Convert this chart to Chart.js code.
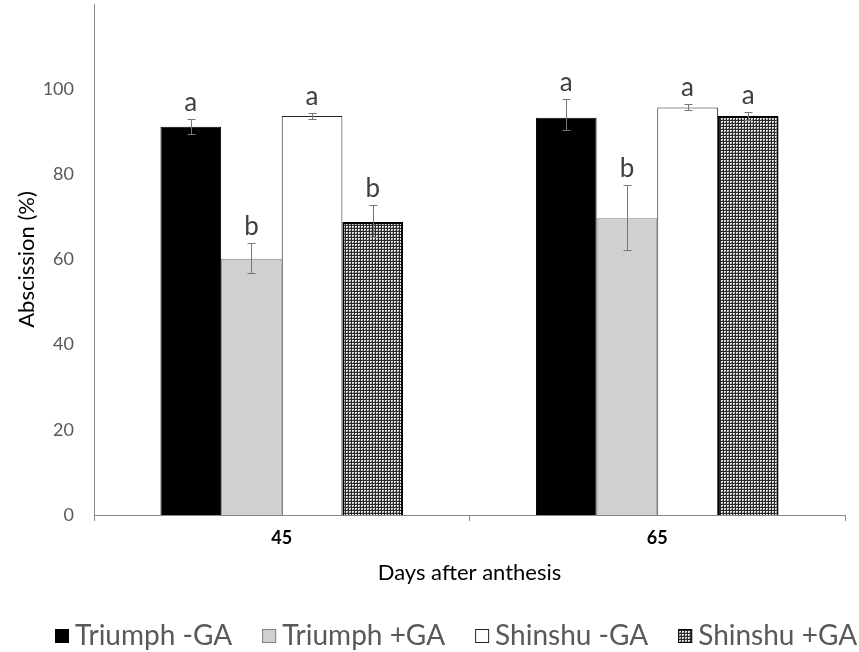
<!DOCTYPE html>
<html><head><meta charset="utf-8">
<script src="https://cdn.jsdelivr.net/npm/chart.js@4/dist/chart.umd.min.js"></script>
<style>html,body{margin:0;padding:0;background:#fff}canvas{display:block}</style>
</head><body>
<canvas id="c" width="859" height="652"></canvas>
<script>
// ---- data ----
const categories = ['45', '65'];
const seriesLabels = ['Triumph -GA', 'Triumph +GA', 'Shinshu -GA', 'Shinshu +GA'];
const triumphMinus = [91.2, 93.3];
const triumphPlus = [60.2, 69.7];
const shinshuMinus = [93.7, 95.7];
const shinshuPlus = [68.8, 93.7];
const triumphMinusErrUp = [1.7, 4.3];
const triumphMinusErrDown = [1.8, 3.0];
const triumphPlusErrUp = [3.7, 7.7];
const triumphPlusErrDown = [3.4, 7.5];
const shinshuMinusErrUp = [0.8, 0.9];
const shinshuMinusErrDown = [0.8, 0.6];
const shinshuPlusErrUp = [4.0, 0.9];
const shinshuPlusErrDown = [3.5, 0.9];
const triumphMinusLetters = ['a', 'a'];
const triumphPlusLetters = ['b', 'b'];
const shinshuMinusLetters = ['a', 'a'];
const shinshuPlusLetters = ['b', 'a'];
const yTicks = [0, 20, 40, 60, 80, 100, 120];

const errUp = [triumphMinusErrUp, triumphPlusErrUp, shinshuMinusErrUp, shinshuPlusErrUp];
const errDown = [triumphMinusErrDown, triumphPlusErrDown, shinshuMinusErrDown, shinshuPlusErrDown];
const letters = [triumphMinusLetters, triumphPlusLetters, shinshuMinusLetters, shinshuPlusLetters];

function makePattern(ctx) {
  const p = document.createElement('canvas');
  p.width = 3; p.height = 3;
  const g = p.getContext('2d');
  g.fillStyle = '#e6e6e6'; g.fillRect(0, 0, 3, 3);
  g.fillStyle = '#2a2a2a'; g.fillRect(0, 0, 3, 1); g.fillRect(0, 0, 1, 3);
  g.fillStyle = '#8a8a8a'; g.fillRect(2, 2, 1, 1);
  return ctx.createPattern(p, 'repeat');
}

const errorBarPlugin = {
  id: 'errorBars',
  afterDatasetsDraw(chart) {
    const ctx = chart.ctx, ys = chart.scales.y;
    ctx.save();
    chart.data.datasets.forEach((ds, i) => {
      const meta = chart.getDatasetMeta(i);
      meta.data.forEach((bar, j) => {
        const v = ds.data[j];
        const top = Math.round(ys.getPixelForValue(v + errUp[i][j])) + 0.5;
        const bot = Math.round(ys.getPixelForValue(v - errDown[i][j])) + 0.5;
        const x = Math.round(bar.x) + 0.5;
        ctx.strokeStyle = '#767676'; ctx.lineWidth = 1;
        ctx.beginPath();
        ctx.moveTo(x, top); ctx.lineTo(x, bot);
        ctx.moveTo(x - 4, top); ctx.lineTo(x + 4, top);
        ctx.moveTo(x - 4, bot); ctx.lineTo(x + 4, bot);
        ctx.stroke();
        ctx.fillStyle = '#404040';
        ctx.font = '26px Lato';
        ctx.textAlign = 'center'; ctx.textBaseline = 'alphabetic';
        ctx.fillText(letters[i][j], bar.x, top - 9);
      });
    });
    ctx.restore();
  }
};

const legendPlugin = {
  id: 'customLegend',
  afterDraw(chart) {
    const ctx = chart.ctx;
    ctx.save();
    ctx.font = '28px Lato'; ctx.textBaseline = 'middle'; ctx.textAlign = 'left';
    let x = 55; const yc = 636; const box = 14;
    chart.data.datasets.forEach(ds => {
      ctx.fillStyle = ds.backgroundColor;
      ctx.fillRect(x, yc - box / 2, box, box);
      ctx.lineWidth = 1; ctx.strokeStyle = ds.borderColor;
      ctx.strokeRect(x + 0.5, yc - box / 2 + 0.5, box - 1, box - 1);
      ctx.fillStyle = '#595959';
      ctx.fillText(ds.label, x + box + 6, yc);
      x += box + 6 + ctx.measureText(ds.label).width + 30;
    });
    ctx.restore();
  }
};

function build() {
  const canvas = document.getElementById('c');
  const ctx = canvas.getContext('2d');
  const pattern = makePattern(ctx);
  new Chart(ctx, {
    type: 'bar',
    data: {
      labels: categories,
      datasets: [
        { label: seriesLabels[0], data: triumphMinus, backgroundColor: '#000000', borderColor: '#000000', borderWidth: 1 },
        { label: seriesLabels[1], data: triumphPlus, backgroundColor: '#d0d0d0', borderColor: '#7f7f7f', borderWidth: 1 },
        { label: seriesLabels[2], data: shinshuMinus, backgroundColor: '#ffffff', borderColor: '#262626', borderWidth: 1 },
        { label: seriesLabels[3], data: shinshuPlus, backgroundColor: pattern, borderColor: '#000000', borderWidth: 2 }
      ]
    },
    options: {
      responsive: false, animation: false, devicePixelRatio: 1,
      layout: { padding: { left: 14, right: 14, top: 4, bottom: 63 } },
      datasets: { bar: { categoryPercentage: 0.646, barPercentage: 1 } },
      plugins: { legend: { display: false }, tooltip: { enabled: false } },
      scales: {
        x: {
          grid: { display: true, drawOnChartArea: false, drawTicks: true, tickLength: 6, offset: true, color: '#888888' },
          border: { display: true, color: '#888888', width: 1 },
          ticks: { font: { family: 'Lato', size: 18, weight: 'bold' }, color: '#000000', padding: 6 },
          title: { display: true, text: 'Days after anthesis', font: { family: 'Lato', size: 22 }, color: '#000000', padding: { top: 4, bottom: 3 } },
          afterFit(s) { s.height = 74; }
        },
        y: {
          min: 0, max: 120,
          afterBuildTicks(s) { s.ticks = yTicks.map(v => ({ value: v })); },
          ticks: { font: { family: 'Lato', size: 18 }, color: '#595959', padding: 20, callback: v => (v === 120 ? '' : v) },
          grid: { display: false, drawTicks: false },
          border: { display: true, color: '#888888', width: 1 },
          title: { display: true, text: 'Abscission (%)', font: { family: 'Lato', size: 22 }, color: '#000000', padding: { top: 0, bottom: 0 } },
          afterFit(s) { s.width = 80; s.paddingTop = 0; s.paddingBottom = 0; }
        }
      }
    },
    plugins: [errorBarPlugin, legendPlugin]
  });
}

if (document.fonts && document.fonts.load) {
  Promise.all([
    document.fonts.load('28px Lato'),
    document.fonts.load('bold 18px Lato')
  ]).then(build, build);
} else { build(); }
</script>
</body></html>
